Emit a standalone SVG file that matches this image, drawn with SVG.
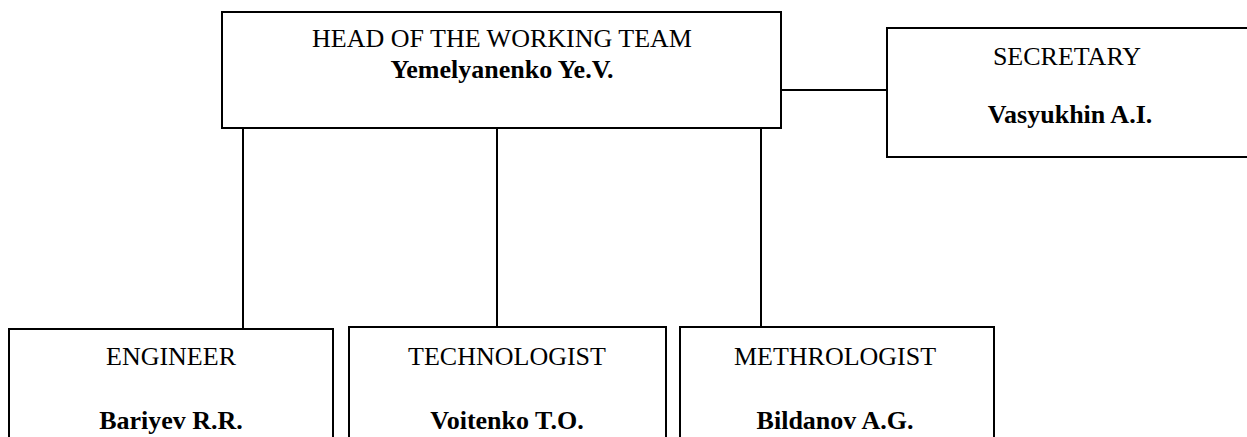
<svg xmlns="http://www.w3.org/2000/svg" width="1247" height="437" viewBox="0 0 1247 437">
<style>
.box{fill:#fff;stroke:#000;stroke-width:2}
.ln{stroke:#000;stroke-width:2;fill:none}
text{font-family:"Liberation Serif","Times New Roman",serif;font-size:26px;fill:#000;text-anchor:middle}
.b{font-weight:bold}
</style>
<rect width="1247" height="437" fill="#fff"/>
<g id="connectors">
<line class="ln" x1="781" y1="90" x2="887" y2="90"/>
<line class="ln" x1="243" y1="128" x2="243" y2="329"/>
<line class="ln" x1="497" y1="128" x2="497" y2="327"/>
<line class="ln" x1="761" y1="128" x2="761" y2="327"/>
</g>
<g id="head">
<rect class="box" x="222" y="12" width="559" height="116"/>
<text x="502" y="47">HEAD OF THE WORKING TEAM</text>
<text class="b" x="502" y="78">Yemelyanenko Ye.V.</text>
</g>
<g id="secretary">
<rect class="box" x="887" y="28" width="370" height="129"/>
<text x="1067" y="65">SECRETARY</text>
<text class="b" x="1070" y="123">Vasyukhin A.I.</text>
</g>
<g id="engineer">
<rect class="box" x="9" y="329" width="324" height="120"/>
<text x="171" y="365">ENGINEER</text>
<text class="b" x="171" y="429">Bariyev R.R.</text>
</g>
<g id="technologist">
<rect class="box" x="349" y="327" width="317" height="122"/>
<text x="507" y="365">TECHNOLOGIST</text>
<text class="b" x="507" y="429">Voitenko T.O.</text>
</g>
<g id="methrologist">
<rect class="box" x="680" y="327" width="314" height="122"/>
<text x="835" y="365">METHROLOGIST</text>
<text class="b" x="835" y="429">Bildanov A.G.</text>
</g>
</svg>
